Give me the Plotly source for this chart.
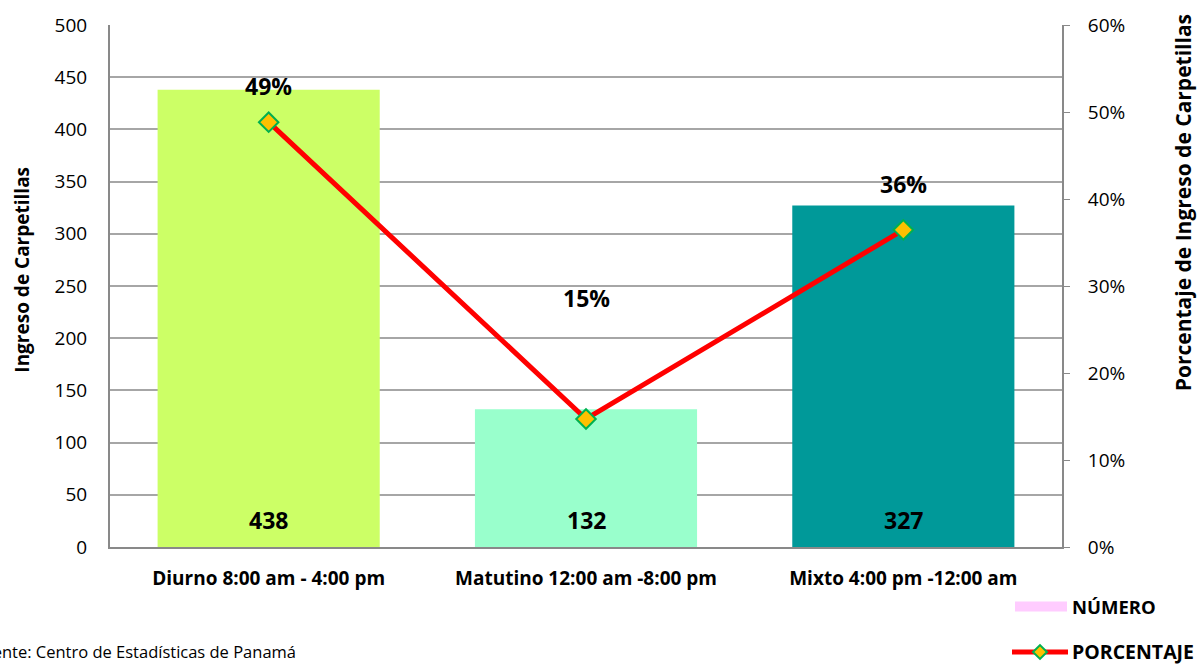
import plotly.graph_objects as go

categories = ["Diurno 8:00 am - 4:00 pm", "Matutino 12:00 am -8:00 pm", "Mixto 4:00 pm -12:00 am"]
numero = [438, 132, 327]
total = sum(numero)
porcentaje = [v / total for v in numero]
pct_labels = ["49%", "15%", "36%"]
left_ticks = list(range(0, 501, 50))
right_ticks = [0, 0.1, 0.2, 0.3, 0.4, 0.5, 0.6]

bar_colors = ["#CCFF66", "#99FFCC", "#009999"]
pct_label_shift = [36, 121, 46]

FONT = "Open Sans"
L, R, T, B = 110, 138, 20, 117
W, H = 1200, 664
PW, PH = W - L - R, H - T - B


def px(x):
    return (x - L) / PW


def py(y):
    return (H - B - y) / PH


fig = go.Figure()
fig.add_trace(go.Bar(x=categories, y=numero, marker=dict(color=bar_colors, line=dict(width=0)),
                     width=0.7, showlegend=False, hoverinfo="skip"))
fig.add_trace(go.Scatter(x=categories, y=porcentaje, yaxis="y2", mode="lines+markers",
                         line=dict(color="#FF0000", width=5),
                         marker=dict(symbol="diamond", size=15, color="#FFC000",
                                     line=dict(color="#00B050", width=2)),
                         showlegend=False, hoverinfo="skip"))

annotations = []
for c, v in zip(categories, numero):
    annotations.append(dict(x=c, y=0, xref="x", yref="y", text=f"<b>{v}</b>", showarrow=False,
                            yanchor="middle", yshift=27, font=dict(size=23, color="#000", family=FONT)))
for c, p, lab, s in zip(categories, porcentaje, pct_labels, pct_label_shift):
    annotations.append(dict(x=c, y=p, xref="x", yref="y2", text=f"<b>{lab}</b>", showarrow=False,
                            yanchor="middle", yshift=s, font=dict(size=23, color="#000", family=FONT)))

# axis titles
annotations.append(dict(x=px(22), y=py(267), xref="paper", yref="paper", xanchor="center", yanchor="middle",
                        text="<b>Ingreso de Carpetillas</b>", textangle=-90,
                        showarrow=False, font=dict(size=19, color="#000", family=FONT)))
annotations.append(dict(x=px(1183), y=py(200), xref="paper", yref="paper", xanchor="center", yanchor="middle",
                        text="<b>Porcentaje de Ingreso de Carpetillas</b>", textangle=-90,
                        showarrow=False, font=dict(size=21, color="#000", family=FONT)))
# source
annotations.append(dict(x=px(298), y=py(653), xref="paper", yref="paper", xanchor="right",
                        yanchor="middle", text="Fuente: Centro de Estadísticas de Panamá",
                        showarrow=False, font=dict(size=16.5, color="#000", family=FONT)))
# legend texts
annotations.append(dict(x=px(1070), y=py(607), xref="paper", yref="paper", xanchor="left",
                        yanchor="middle", text="<b>NÚMERO</b>", showarrow=False,
                        font=dict(size=18.5, color="#000", family=FONT)))
annotations.append(dict(x=px(1070), y=py(653), xref="paper", yref="paper", xanchor="left",
                        yanchor="middle", text="<b>PORCENTAJE</b>", showarrow=False,
                        font=dict(size=19.5, color="#000", family=FONT)))

shapes = [
    dict(type="rect", xref="paper", yref="paper", x0=px(1015), x1=px(1067), y0=py(612), y1=py(602),
         fillcolor="#FFCCFF", line=dict(width=0)),
    dict(type="line", xref="paper", yref="paper", x0=px(1012), x1=px(1068), y0=py(653), y1=py(653),
         line=dict(color="#FF0000", width=5)),
]
cx, cy, d = 1040, 653, 7
shapes.append(dict(type="path", xref="paper", yref="paper",
                   path=f"M {px(cx - d)} {py(cy)} L {px(cx)} {py(cy - d)} L {px(cx + d)} {py(cy)} L {px(cx)} {py(cy + d)} Z",
                   fillcolor="#FFC000", line=dict(color="#00B050", width=2)))

fig.update_layout(
    width=W, height=H, margin=dict(l=L, r=R, t=T, b=B),
    paper_bgcolor="white", plot_bgcolor="white",
    font=dict(family=FONT, color="#000"),
    bargap=0.3,
    xaxis=dict(showline=True, linecolor="#898989", linewidth=2, ticks="", showgrid=False,
               tickfont=dict(size=19, family=FONT, color="#000"), ticklabelstandoff=13,
               tickprefix="<b>", ticksuffix="</b>"),
    yaxis=dict(range=[0, 500], tickvals=left_ticks, showgrid=True, gridcolor="#A6A6A6", gridwidth=1.5,
               showline=True, linecolor="#898989", linewidth=2, ticks="", zeroline=False,
               tickfont=dict(size=19, family=FONT, color="#000"), ticklabelstandoff=17),
    yaxis2=dict(range=[0, 0.6], tickvals=right_ticks, tickformat=".0%", overlaying="y", side="right",
                showgrid=False, showline=True, linecolor="#898989", linewidth=2, ticks="outside",
                ticklen=6, tickcolor="#898989", zeroline=False,
                tickfont=dict(size=19, family=FONT, color="#000"), ticklabelstandoff=14),
    annotations=annotations, shapes=shapes,
)

fig.write_html("out.html", config={"displayModeBar": False},
               post_script="document.body.style.margin='0';document.body.style.overflow='hidden';")
